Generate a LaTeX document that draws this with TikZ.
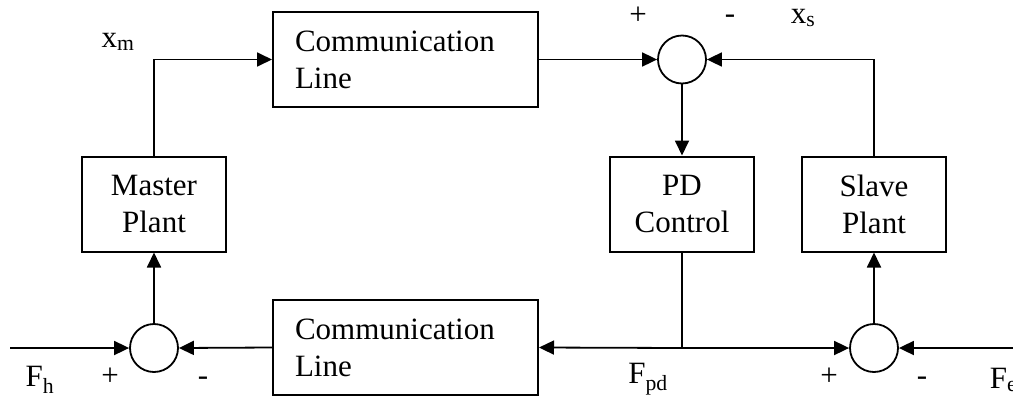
\documentclass[tikz,border=0pt]{standalone}
\usepackage{fontspec}
\setmainfont{Liberation Serif}
\usetikzlibrary{arrows.meta}
\begin{document}
\begin{tikzpicture}[x=1pt,y=-1pt,
  line width=1.8pt,
  blk/.style={draw, line width=2pt, minimum height=95pt, inner ysep=0pt,
    font=\fontsize{31}{37}\selectfont, align=center},
  sum/.style={draw, circle, line width=1.8pt, minimum size=48pt, inner sep=0pt},
  lbl/.style={inner sep=0pt, font=\fontsize{31}{36}\selectfont},
  arr/.style={-{Triangle[length=15pt,width=14pt]}}]
\useasboundingbox (0,0) rectangle (1013,397);

% blocks
\node[blk, text width=221pt, inner xsep=22pt, align=left] (tc) at (405.5,59.5) {Communication\\Line};
\node[blk, text width=221pt, inner xsep=22pt, align=left] (bc) at (405.5,347.5) {Communication\\Line};
\node[blk, minimum width=144pt] (mp) at (154,204) {Master\\Plant};
\node[blk, minimum width=144pt] (pd) at (682,204) {PD\\Control};
\node[blk, minimum width=144pt] (sp) at (874,204) {Slave\\Plant};

% summing junctions
\node[sum] (st) at (682,59.5) {};
\node[sum] (sl) at (154,348) {};
\node[sum] (sr) at (874,348) {};

% free ends and branch point
\coordinate (fin) at (10,348);
\coordinate (ein) at (1013,348);
\coordinate (br) at (682,348);

% signal paths
\draw[arr] (mp.north) |- (tc.west);
\draw[arr] (tc.east) -- (st.west);
\draw[arr] (sp.north) |- (st.east);
\draw[arr] (st.south) -- (pd.north);
\draw (pd.south) -- (br);
\draw[arr] (br) -- (bc.east);
\draw[arr] (br) -- (sr.west);
\draw[arr] (ein) -- (sr.east);
\draw[arr] (sr.north) -- (sp.south);
\draw[arr] (bc.west) -- (sl.east);
\draw[arr] (fin) -- (sl.west);
\draw[arr] (sl.north) -- (mp.south);

% signal labels and signs
\node[lbl] (lxm) at (118,42) {x\textsubscript{m}};
\node[lbl] (lxs) at (803,18) {x\textsubscript{s}};
\node[lbl] (ptp) at (638,16) {+};
\node[lbl] (ptm) at (730,19) {-};
\node[lbl] (lfh) at (40,380) {F\textsubscript{h}};
\node[lbl] (plp) at (110,377) {+};
\node[lbl] (plm) at (203,381) {-};
\node[lbl] (lfpd) at (648,379) {F\textsubscript{pd}};
\node[lbl] (prp) at (829,377) {+};
\node[lbl] (prm) at (922,381) {-};
\node[lbl, anchor=west] (lfe) at (989,380) {F\textsubscript{e}};
\end{tikzpicture}
\end{document}
